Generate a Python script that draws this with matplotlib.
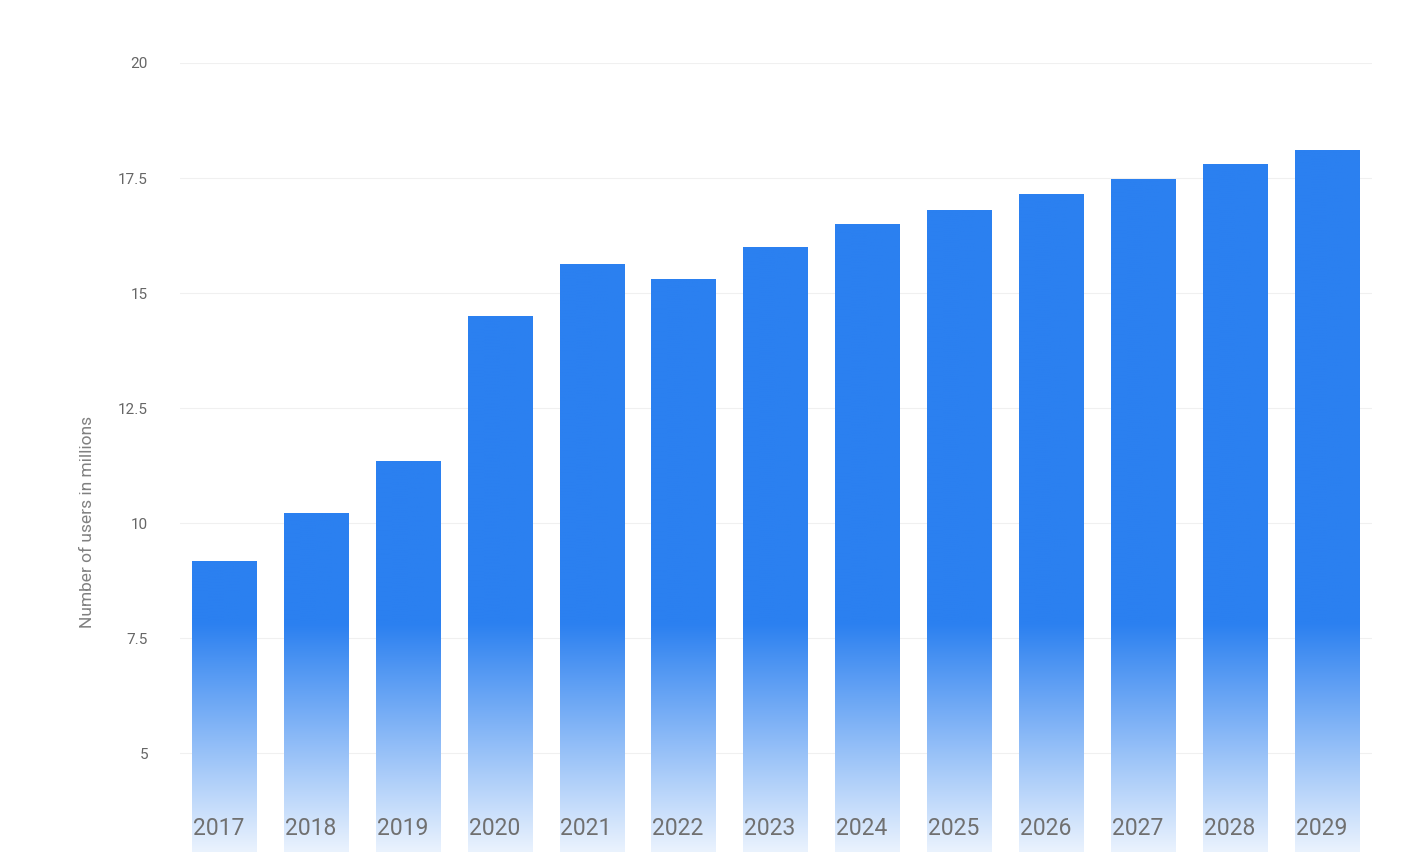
import numpy as np
import matplotlib.pyplot as plt
from matplotlib.colors import to_rgb

years = ['2017', '2018', '2019', '2020', '2021', '2022', '2023',
         '2024', '2025', '2026', '2027', '2028', '2029']
users = [9.17, 10.2, 11.33, 14.48, 15.61, 15.3, 16.0,
         16.48, 16.8, 17.15, 17.46, 17.8, 18.1]
y_ticks = [5, 7.5, 10, 12.5, 15, 17.5, 20]

bar_color = np.array(to_rgb('#2b80f0'))
y_min, y_max = 2.85, 20
fade_top = 7.8   # gradient starts below this value
bar_w = 0.70

plt.rcParams['font.family'] = ['Roboto', 'DejaVu Sans']

fig = plt.figure(figsize=(14.10, 8.52), dpi=100)
ax = fig.add_axes([180 / 1410, 0, (1372 - 180) / 1410, (852 - 63) / 852])

x = np.arange(len(years))
ax.set_xlim(-0.479, len(years) - 1 + 0.49)
ax.set_ylim(y_min, y_max)

# vertical gradient, blended with white: solid above fade_top, light at the bottom
n = 256
vals = np.linspace(y_min, y_max, n)
strength = np.clip(0.1 + 0.9 * (vals - y_min) / (fade_top - y_min), 0, 1)
for xi, v in zip(x, users):
    rows = vals <= v
    s = strength[rows][:, None, None]
    grad = s * bar_color + (1 - s) * np.ones(3)
    ax.imshow(grad, origin='lower', aspect='auto', interpolation='bilinear',
              extent=(xi - bar_w / 2, xi + bar_w / 2, y_min, v), zorder=2)
    ax.text(xi - 0.06, 3.37, years[xi], ha='center', va='center', fontsize=16.5,
            color='#707070', zorder=3)

ax.set_yticks(y_ticks)
ax.set_yticklabels(['5', '7.5', '10', '12.5', '15', '17.5', '20'])
ax.set_xticks([])
ax.tick_params(axis='y', length=0, pad=23, labelsize=11, labelcolor='#666666')
ax.grid(axis='y', color='#f0f0f0', linewidth=0.8)
ax.set_axisbelow(True)
for s in ax.spines.values():
    s.set_visible(False)

fig.text(88 / 1410, 1 - 522 / 852, 'Number of users in millions', rotation=90,
         ha='center', va='center', fontsize=12.5, color='#808080')

plt.savefig('out.png', dpi=100)
